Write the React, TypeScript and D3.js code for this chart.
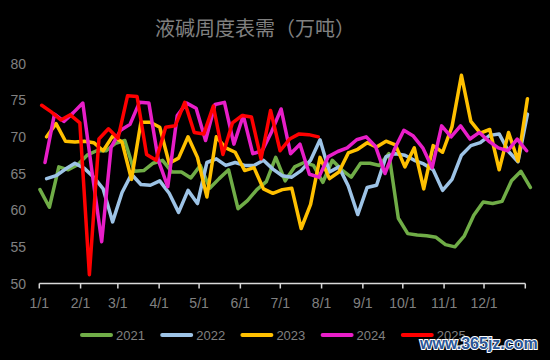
import React from "react";
import * as d3 from "d3";

const TITLE = "液碱周度表需（万吨）";
const MONTH_LABELS = ["1/1", "2/1", "3/1", "4/1", "5/1", "6/1", "7/1", "8/1", "9/1", "10/1", "11/1", "12/1"];
const MONTH_START_DAYS = [0, 31, 59, 90, 120, 151, 181, 212, 243, 273, 304, 334];
const YEAR_END_DAY = 365;
const Y_TICKS = [50, 55, 60, 65, 70, 75, 80];

const SERIES_NAMES = ["2021", "2022", "2023", "2024", "2025"];
const SERIES_COLORS = ["#70ad47", "#9dc3e6", "#ffc000", "#e81ec8", "#ff0000"];
// first / last day-of-year of each weekly series
const SERIES_FIRST_DAY = [0.5, 5.5, 5.5, 4.3, 1.8];
const SERIES_LAST_DAY = [368.8, 366.6, 366.6, 366.0, 209.5];

const v2021 = [62.8, 60.4, 65.9, 65.5, 66.2, 67.5, 68.1, 68.1, 69.1, 69.5, 65.3, 65.4, 66.4, 66.8, 65.2, 65.2, 64.4, 66.1, 63.0, 64.3, 65.5, 60.2, 61.3, 62.8, 63.9, 67.2, 64.0, 65.9, 66.5, 66.1, 63.8, 66.8, 65.5, 64.5, 66.4, 66.4, 66.1, 67.7, 58.9, 56.8, 56.6, 56.5, 56.3, 55.3, 55.0, 56.5, 59.3, 61.1, 60.9, 61.2, 64.0, 65.3, 63.1];
const v2022 = [64.3, 64.7, 65.6, 66.4, 65.7, 64.5, 62.9, 58.4, 62.4, 64.9, 63.5, 63.4, 64.0, 62.3, 59.7, 62.7, 60.9, 66.5, 67.0, 66.1, 66.5, 66.1, 66.1, 66.8, 65.6, 64.7, 64.5, 65.4, 66.8, 69.6, 65.2, 65.9, 63.3, 59.4, 63.1, 63.4, 67.3, 67.7, 67.5, 66.8, 66.3, 65.5, 62.7, 64.2, 67.5, 68.8, 69.2, 70.2, 70.4, 68.0, 66.6, 73.1];
const v2023 = [70.0, 71.8, 69.4, 69.3, 69.4, 69.2, 68.1, 70.1, 69.3, 64.2, 72.0, 72.0, 71.3, 66.4, 67.1, 70.0, 67.2, 61.8, 70.0, 68.5, 67.9, 65.4, 65.8, 62.9, 62.3, 62.8, 63.0, 57.5, 60.8, 67.2, 64.3, 65.2, 67.8, 68.3, 69.2, 68.6, 69.4, 68.9, 65.9, 68.5, 62.9, 68.8, 67.9, 71.4, 78.4, 72.1, 70.5, 71.0, 65.5, 70.6, 66.7, 75.2];
const v2024 = [66.5, 73.1, 72.1, 73.3, 74.6, 65.0, 55.7, 68.6, 70.9, 71.7, 74.7, 74.6, 66.8, 63.2, 72.9, 74.6, 73.9, 69.5, 74.4, 74.7, 69.0, 72.9, 67.7, 68.1, 70.7, 73.8, 67.7, 69.0, 64.9, 64.5, 67.3, 68.0, 68.5, 69.6, 70.0, 68.7, 65.0, 68.3, 70.9, 70.1, 68.5, 65.8, 71.5, 70.0, 71.5, 69.7, 70.6, 69.4, 68.5, 68.1, 69.7, 68.1];
const v2025 = [74.3, 73.4, 72.3, 73.0, 71.9, 51.2, 69.7, 71.1, 69.8, 75.6, 75.5, 67.6, 66.8, 71.3, 71.5, 74.7, 70.6, 70.4, 74.2, 67.6, 71.9, 72.9, 72.7, 67.0, 73.6, 68.1, 69.7, 70.4, 70.3, 70.0];
const SERIES_VALUES = [v2021, v2022, v2023, v2024, v2025];

const W = 550;
const H = 360;
const AXIS_FONT = "'Liberation Sans', Arial, sans-serif";

export default function App() {
  const x = d3.scaleLinear().domain([0, YEAR_END_DAY]).range([39.3, 525.3]);
  const y = d3.scaleLinear().domain([50, 80]).range([283.5, 63.5]);

  const series = SERIES_VALUES.map((vals, s) => {
    const first = SERIES_FIRST_DAY[s];
    const last = SERIES_LAST_DAY[s];
    const step = (last - first) / (vals.length - 1);
    return vals.map((v, i) => ({ day: first + i * step, v }));
  });

  const line = d3
    .line<{ day: number; v: number }>()
    .x((d) => x(d.day))
    .y((d) => y(d.v));

  const axisY = y(50);
  const tickDays = [...MONTH_START_DAYS, YEAR_END_DAY];

  const legendX0 = 80;
  const legendStep = 80.2;
  const legendY = 335;

  return (
    <svg
      width={W}
      height={H}
      style={{ position: "absolute", left: 0, top: 0, display: "block" }}
    >
      <rect x={0} y={0} width={W} height={H} fill="#000" />
      <text
        x={255}
        y={27}
        textAnchor="middle"
        dominantBaseline="central"
        fill="#808080"
        fontFamily="'Noto Sans CJK SC', sans-serif"
        fontSize={20}
      >
        {TITLE}
      </text>

      {Y_TICKS.map((t) => (
        <text
          key={t}
          x={26}
          y={y(t)}
          textAnchor="end"
          dominantBaseline="central"
          fill="#808080"
          fontFamily={AXIS_FONT}
          fontSize={14}
        >
          {t}
        </text>
      ))}

      <line x1={x(0)} x2={x(YEAR_END_DAY)} y1={axisY} y2={axisY} stroke="#d9d9d9" strokeWidth={1.5} />
      {tickDays.map((d, i) => (
        <line key={i} x1={x(d)} x2={x(d)} y1={axisY} y2={axisY + 5} stroke="#d9d9d9" strokeWidth={1.5} />
      ))}
      {MONTH_LABELS.map((lab, i) => (
        <text
          key={lab}
          x={x(MONTH_START_DAYS[i])}
          y={303}
          textAnchor="middle"
          dominantBaseline="central"
          fill="#808080"
          fontFamily={AXIS_FONT}
          fontSize={14}
        >
          {lab}
        </text>
      ))}

      {series.map((pts, s) => (
        <path
          key={SERIES_NAMES[s]}
          d={line(pts) || ""}
          fill="none"
          stroke={SERIES_COLORS[s]}
          strokeWidth={3.5}
          strokeLinejoin="round"
          strokeLinecap="round"
        />
      ))}

      {SERIES_NAMES.map((name, s) => {
        const lx = legendX0 + s * legendStep;
        return (
          <g key={name}>
            <line
              x1={lx + 2}
              x2={lx + 31}
              y1={legendY}
              y2={legendY}
              stroke={SERIES_COLORS[s]}
              strokeWidth={4}
              strokeLinecap="round"
            />
            <text
              x={lx + 36}
              y={legendY}
              dominantBaseline="central"
              fill="#808080"
              fontFamily={AXIS_FONT}
              fontSize={13}
            >
              {name}
            </text>
          </g>
        );
      })}

      <text
        x={420}
        y={349}
        fill="#2b5797"
        stroke="#ffffff"
        strokeWidth={2}
        paintOrder="stroke"
        fontFamily={AXIS_FONT}
        fontWeight="bold"
        fontSize={16}
      >
        www.365jz.com
      </text>
    </svg>
  );
}
